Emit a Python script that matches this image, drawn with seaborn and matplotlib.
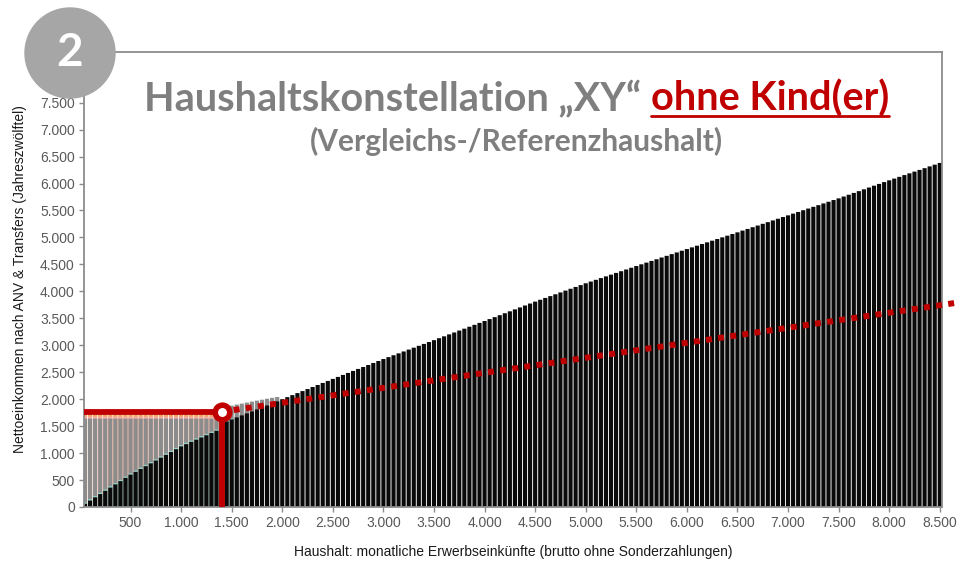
import matplotlib
matplotlib.use("Agg")
import matplotlib.pyplot as plt
from matplotlib.patches import Ellipse
from matplotlib.lines import Line2D
from matplotlib.ticker import FuncFormatter
import pandas as pd
import seaborn as sns

# --- Data ---
# monthly gross earnings, one bar every 50
einkommen = list(range(50, 8501, 50))

# net income (black bars)
netto = [
    # 50 - 1400
    60, 120, 180, 240, 300, 360, 420, 480, 540, 600,
    652, 705, 757, 810, 862, 915, 967, 1020, 1072, 1125,
    1166, 1208, 1249, 1290, 1331, 1373, 1414, 1455,
    # 1450 - 1950
    1588, 1625, 1662, 1699, 1736, 1773, 1810, 1847, 1884, 1921, 1958,
    # 2000 - 8500
    2000, 2038, 2075, 2113, 2150, 2188, 2226, 2263, 2301, 2338,
    2376, 2413, 2450, 2487, 2524, 2561, 2597, 2634, 2671, 2708,
    2745, 2780, 2815, 2850, 2885, 2920, 2955, 2990, 3025, 3060,
    3095, 3131, 3166, 3202, 3237, 3273, 3308, 3344, 3379, 3415,
    3450, 3486, 3522, 3558, 3594, 3630, 3666, 3702, 3738, 3774,
    3810, 3844, 3878, 3912, 3946, 3980, 4014, 4048, 4082, 4116,
    4150, 4182, 4214, 4246, 4278, 4310, 4342, 4374, 4406, 4438,
    4470, 4502, 4533, 4565, 4596, 4628, 4659, 4691, 4722, 4754,
    4785, 4816, 4847, 4878, 4909, 4940, 4971, 5002, 5033, 5064,
    5095, 5127, 5158, 5190, 5221, 5253, 5284, 5316, 5347, 5379,
    5410, 5442, 5473, 5505, 5536, 5568, 5599, 5631, 5662, 5694,
    5725, 5759, 5792, 5826, 5859, 5893, 5926, 5960, 5993, 6027,
    6060, 6092, 6124, 6157, 6189, 6221, 6253, 6285, 6318, 6350,
    6382,
]

# thin teal strip on top of the net income
sv_strip = [25] * 28 + [20, 15] + [0] * 140

# top of the grey transfer block (0 = no transfer)
transfer_top = ([1640] * 28
                + [1860, 1880, 1900, 1918, 1937, 1955, 1973, 1990, 2008, 2025, 2040]
                + [0] * 131)

pink_strip = [35] * 28 + [0] * 142
orange_strip = [35] * 28 + [20] + [0] * 141

# marked household and dotted reference line
punkt_x, punkt_y = 1400, 1765
ref_x = [1400, 8670]
ref_y = [1765, 3790]

# --- Build layered (overlaid) bar levels; 0 where a layer is absent ---
df = pd.DataFrame({"einkommen": einkommen, "netto": netto, "sv": sv_strip,
                   "grau": transfer_top, "pink": pink_strip, "or": orange_strip})
df["teal"] = (df["netto"] + df["sv"]).where(df["sv"] > 0, 0)
df["rosa"] = (df["grau"] + df["pink"]).where(df["pink"] > 0, 0)
df["orange"] = (df["grau"] + df["pink"] + df["or"]).where(df["or"] > 0, 0)

sns.set_style("white")
plt.rcParams["font.family"] = ["Liberation Sans", "DejaVu Sans"]

fig = plt.figure(figsize=(9.59, 5.63), dpi=100)
ax = fig.add_axes([84 / 959, 56 / 563, 858 / 959, 455 / 563])

layers = [
    ("orange", "#f4a25a"),
    ("rosa", "#f3b0ae"),
    ("grau", "#8c8c8c"),
    ("teal", "#8fd0c6"),
    ("netto", "#0a0a0a"),
]
for col, farbe in layers:
    sns.barplot(data=df, x="einkommen", y=col, color=farbe, native_scale=True,
                width=0.82, saturation=1, linewidth=0, errorbar=None, ax=ax)
# no pixel snapping -> even, thin gaps between the bars
for p in ax.patches:
    p.set_snap(False)

# red marker lines
rot = "#c00000"
ax.plot([0, punkt_x], [punkt_y, punkt_y], color=rot, lw=4.2,
        solid_capstyle="butt", zorder=6)
ax.plot([punkt_x, punkt_x], [0, punkt_y], color=rot, lw=4.2,
        solid_capstyle="butt", zorder=6)
ax.plot(ref_x, ref_y, color=rot, lw=4.3, linestyle=(0, (1, 1.05)),
        dash_capstyle="butt", clip_on=False, zorder=7)
ax.plot(punkt_x, punkt_y, "o", ms=10.5, mfc="white", mec=rot, mew=4,
        zorder=8, clip_on=False)

# axes
ax.set_xlim(40, 8522)
ax.set_ylim(0, 8440)
ax.set_xticks(range(500, 8501, 500))
ax.set_yticks(range(0, 7501, 500))
tausend = FuncFormatter(lambda v, p: f"{int(v):,}".replace(",", "."))
ax.xaxis.set_major_formatter(tausend)
ax.yaxis.set_major_formatter(tausend)
ax.tick_params(direction="out", length=3.6, width=1, color="#8c8c8c",
               labelcolor="#595959", labelsize=10, pad=3, left=True, bottom=True)
for s in ax.spines.values():
    s.set_visible(True)
    s.set_color("#8c8c8c")
    s.set_linewidth(1.3)

ax.set_xlabel("Haushalt: monatliche Erwerbseinkünfte (brutto ohne Sonderzahlungen)",
              fontsize=10, color="#1a1a1a", labelpad=11)
ax.set_ylabel("Nettoeinkommen nach ANV & Transfers (Jahreszwölftel)",
              fontsize=10, color="#1a1a1a", labelpad=9)

# numbered circle
fig.add_artist(Ellipse((70 / 959, 1 - 53 / 563), 90 / 959, 90 / 563,
                       transform=fig.transFigure, color="#a6a6a6", zorder=10))
fig.text(70 / 959, 1 - 53 / 563, "2", ha="center", va="center", fontsize=33,
         fontweight="bold", color="white", family="Lato", zorder=11)

# title
grau = "#7f7f7f"
fig.text(641 / 959, 1 - 111 / 563, "Haushaltskonstellation „XY“", ha="right",
         va="baseline", fontsize=28.5, fontweight="bold", color=grau, family="Lato")
rot_txt = fig.text(651 / 959, 1 - 111 / 563, "ohne Kind(er)", ha="left",
                   va="baseline", fontsize=28.5, fontweight="bold", color=rot,
                   family="Lato")
fig.text(516 / 959, 1 - 151 / 563, "(Vergleichs-/Referenzhaushalt)", ha="center",
         va="baseline", fontsize=21.5, fontweight="bold", color=grau, family="Lato")

fig.canvas.draw()
bb = rot_txt.get_window_extent().transformed(fig.transFigure.inverted())
y_ul = 1 - 116 / 563
fig.add_artist(Line2D([bb.x0, bb.x1], [y_ul, y_ul], transform=fig.transFigure,
                      color=rot, lw=2))

fig.savefig("out.png", dpi=100)
